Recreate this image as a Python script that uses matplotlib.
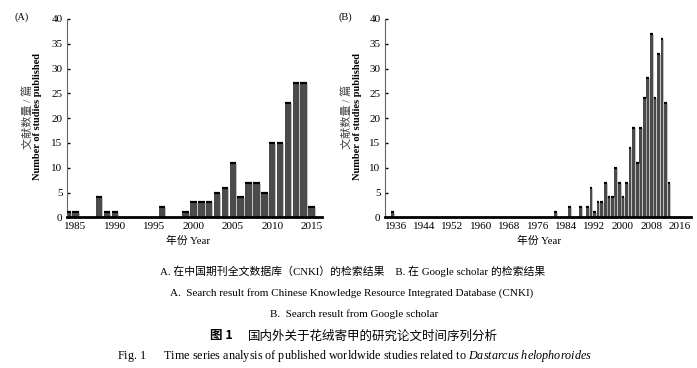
import matplotlib
matplotlib.use("Agg")
import matplotlib.pyplot as plt
import numpy as np

plt.rcParams['font.family'] = ['Liberation Serif', 'Noto Sans CJK SC']
plt.rcParams['mathtext.fontset'] = 'custom'
plt.rcParams['mathtext.rm'] = 'Liberation Serif'
plt.rcParams['mathtext.it'] = 'Liberation Serif:italic'

# (A) CNKI search results
years_a = [1984, 1985, 1988, 1989, 1990, 1996,
           1999, 2000, 2001, 2002, 2003, 2004, 2005, 2006, 2007,
           2008, 2009, 2010, 2011, 2012, 2013, 2014, 2015]
counts_a = [1, 1, 4, 1, 1, 2,
            1, 3, 3, 3, 5, 6, 11, 4, 7,
            7, 5, 15, 15, 23, 27, 27, 2]
ticks_a = [1985, 1990, 1995, 2000, 2005, 2010, 2015]

# (B) Google scholar search results
years_b = [1935, 1981, 1985, 1988,
           1990, 1991, 1992, 1993, 1994, 1995, 1996, 1997, 1998, 1999, 2000, 2001,
           2002, 2003, 2004, 2005, 2006, 2007, 2008, 2009, 2010, 2011, 2012, 2013]
counts_b = [1, 1, 2, 2,
            2, 6, 1, 3, 3, 7, 4, 4, 10, 7, 4, 7,
            14, 18, 11, 18, 24, 28, 37, 24, 33, 36, 23, 7]
ticks_b = [1936, 1944, 1952, 1960, 1968, 1976, 1984, 1992, 2000, 2008, 2016]

fig = plt.figure(figsize=(6.97, 3.68), dpi=100)
ax_a = fig.add_axes([0.0957, 0.4095, 0.366, 0.539])
ax_b = fig.add_axes([0.552, 0.4095, 0.440, 0.539])


def draw_panel(ax, years, counts, ticks, xlim, width):
    x = np.array(years, dtype=float)
    y = np.array(counts, dtype=float)
    ax.bar(x, y, width=width, color='#4b4b4b', linewidth=0, zorder=2)
    # black cap on top of each bar, light edge on the right side
    ax.hlines(y, x - width / 2, x + width / 2, color='black', lw=1.6, zorder=3)
    ax.vlines(x + width / 2, 0, y, color='#b5b5b5', lw=0.6, zorder=3)
    ax.set_xlim(xlim)
    ax.set_ylim(0, 40)
    ax.set_yticks(range(0, 41, 5))
    ax.set_xticks(ticks)
    for s in ['top', 'right']:
        ax.spines[s].set_visible(False)
    ax.spines['left'].set_color('#666666')
    ax.spines['left'].set_linewidth(0.8)
    ax.spines['bottom'].set_color('black')
    ax.spines['bottom'].set_linewidth(2)
    ax.spines['bottom'].set_zorder(4)
    ax.tick_params(axis='y', direction='in', length=2, width=1, color='black',
                   labelsize=8, pad=3)
    ax.tick_params(axis='x', length=0, labelsize=8, pad=3.5)


draw_panel(ax_a, years_a, counts_a, ticks_a, (1983.9, 2016.3), 0.82)
draw_panel(ax_b, years_b, counts_b, ticks_b, (1932.9, 2019.3), 0.8)

W, H = 697.0, 368.0


def fx(px):
    return px / W


def fy(py):
    return 1 - py / H


# panel letters
fig.text(fx(22), fy(17), '(A)', ha='center', va='center', fontsize=7.5)
fig.text(fx(345), fy(17), '(B)', ha='center', va='center', fontsize=7.5)

# y labels
for xc, xe in [(27, 37.5), (346.5, 357.5)]:
    fig.text(fx(xc), fy(117), '文献数量 / 篇', rotation=90, ha='center', va='center',
             fontsize=8, color='#444444')
    fig.text(fx(xe), fy(117), 'Number of studies published', rotation=90,
             ha='center', va='center', fontsize=7.5, fontweight='bold')

# x labels
fig.text(fx(188), fy(241), '年份 Year', ha='center', va='center', fontsize=7.8)
fig.text(fx(539), fy(241), '年份 Year', ha='center', va='center', fontsize=7.8)

# captions
fig.text(fx(353), fy(271),
         'A. 在中国期刊全文数据库（CNKI）的检索结果　B. 在 Google scholar 的检索结果',
         ha='center', va='center', fontsize=7.8)
fig.text(fx(352), fy(293),
         'A.  Search result from Chinese Knowledge Resource Integrated Database (CNKI)',
         ha='center', va='center', fontsize=8)
fig.text(fx(354), fy(314), 'B.  Search result from Google scholar',
         ha='center', va='center', fontsize=8)
fig.text(fx(221), fy(336), '图 1', ha='center', va='center', fontsize=9,
         fontweight='bold', family=['Noto Sans CJK SC', 'DejaVu Sans'])
fig.text(fx(248), fy(336), '国内外关于花绒寄甲的研究论文时间序列分析',
         ha='left', va='center', fontsize=9, family=['Noto Sans CJK SC', 'DejaVu Sans'])
fig.text(fx(355), fy(356),
         r'Fig. 1      Time series analysis of published worldwide studies related to '
         r'$\it{Dastarcus\ helophoroides}$',
         ha='center', va='center', fontsize=8.7)

fig.savefig('out.png', dpi=100)
